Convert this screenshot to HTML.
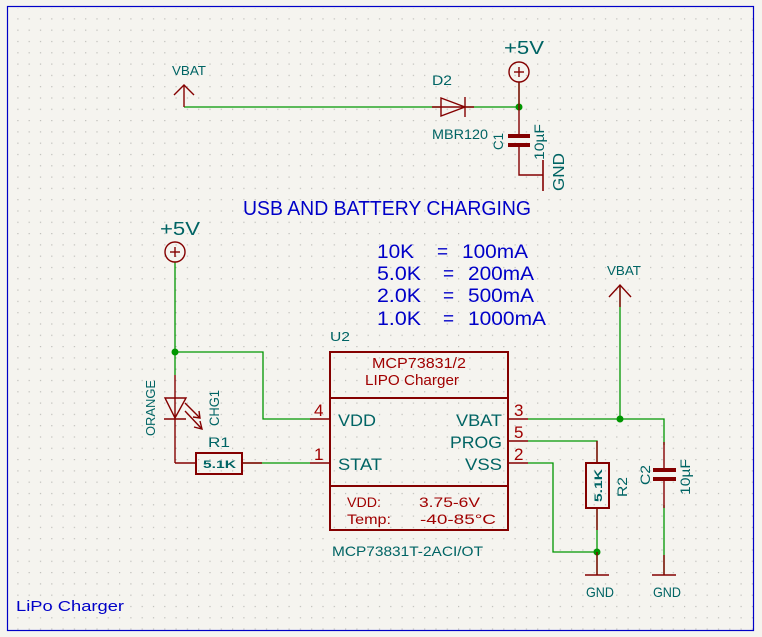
<!DOCTYPE html>
<html><head><meta charset="utf-8"><style>
html,body{margin:0;padding:0;background:#f5f4ef;}
svg{display:block}
text{font-family:"Liberation Sans",sans-serif;}
</style></head><body>
<svg width="762" height="637" viewBox="0 0 762 637" xmlns="http://www.w3.org/2000/svg">
<defs>
<pattern id="g" x="6" y="7" width="11.3" height="11.3" patternUnits="userSpaceOnUse">
<rect x="0" y="0" width="1.2" height="1.2" fill="#bdbdb8"/>
</pattern>
</defs>
<rect width="762" height="637" fill="#f5f4ef"/>
<rect x="8" y="8" width="746" height="622" fill="url(#g)"/>
<rect x="7.5" y="6.5" width="746" height="624" fill="none" stroke="#0000c8" stroke-width="1.2"/>

<g stroke="#009600" stroke-width="1.3" fill="none">
<polyline points="184,107 440,107"/>
<polyline points="466,107 519,107 519,82"/>
<polyline points="175,262 175,375"/>
<polyline points="175,352 263,352 263,419 310,419"/>
<polyline points="242,463 310,463"/>
<polyline points="528,419 664,419 664,445"/>
<polyline points="620,419 620,285"/>
<polyline points="528,441 597,441 597,463"/>
<polyline points="528,463 553,463 553,552 597,552"/>
<polyline points="597,508 597,575"/>
<polyline points="664,505 664,575"/>
</g>
<g fill="#009600">
<circle cx="519" cy="107" r="3.5"/>
<circle cx="175" cy="352" r="3.5"/>
<circle cx="620" cy="419" r="3.5"/>
<circle cx="597" cy="552" r="3.5"/>
</g>

<g stroke="#840000" stroke-width="1.4" fill="none">
<polyline points="174,95 184,85 194,95"/><line x1="184" y1="85" x2="184" y2="107"/>
<line x1="432" y1="107" x2="474" y2="107"/>
<polygon points="441,98 441,116 465,107"/><line x1="465" y1="97" x2="465" y2="117"/>
<circle cx="519" cy="72" r="10"/><line x1="514" y1="72" x2="524" y2="72"/><line x1="519" y1="67" x2="519" y2="77"/>
<line x1="519" y1="82" x2="519" y2="107"/>
<line x1="519" y1="107" x2="519" y2="137"/>
<polyline points="519,146 519,175 543,175"/>
<line x1="543" y1="160" x2="543" y2="191" stroke-width="1.6"/>
<circle cx="175" cy="252" r="10"/><line x1="170" y1="252" x2="180" y2="252"/><line x1="175" y1="247" x2="175" y2="257"/>
<line x1="175" y1="375" x2="175" y2="463"/>
<polygon points="165,398 186,398 175,418"/><line x1="164" y1="419" x2="186" y2="419"/>
<line x1="185" y1="403" x2="200" y2="418"/><polyline points="193,417 200,418 199,411"/>
<line x1="185" y1="411" x2="201" y2="428"/><polyline points="194,427 202,429 200,421"/>
<line x1="175" y1="463" x2="196" y2="463"/><line x1="242" y1="463" x2="262" y2="463"/>
<rect x="196" y="453" width="46" height="21" stroke-width="2"/>
<rect x="330" y="352" width="178" height="178" stroke-width="2"/>
<line x1="330" y1="398" x2="508" y2="398" stroke-width="2"/>
<line x1="330" y1="486" x2="508" y2="486" stroke-width="2"/>
<line x1="310" y1="419" x2="330" y2="419"/><line x1="310" y1="463" x2="330" y2="463"/>
<line x1="508" y1="419" x2="528" y2="419"/><line x1="508" y1="441" x2="528" y2="441"/><line x1="508" y1="463" x2="528" y2="463"/>
<polyline points="609,297 620,285 631,297"/><line x1="620" y1="285" x2="620" y2="307"/>
<line x1="597" y1="441" x2="597" y2="463"/><line x1="597" y1="508" x2="597" y2="530"/>
<rect x="586" y="463" width="23" height="45" stroke-width="2"/>
<line x1="597" y1="552" x2="597" y2="575"/>
<line x1="585" y1="575" x2="609" y2="575" stroke-width="1.6"/>
<line x1="664" y1="442" x2="664" y2="470"/><line x1="664" y1="480" x2="664" y2="508"/>
<line x1="664" y1="555" x2="664" y2="575"/>
<line x1="652" y1="575" x2="676" y2="575" stroke-width="1.6"/>
</g>
<g fill="#840000">
<rect x="508" y="134" width="22" height="4"/><rect x="508" y="143" width="22" height="4"/>
<rect x="653" y="468" width="23" height="4"/><rect x="653" y="477" width="23" height="4"/>
</g>

<g fill="#006464" font-size="13">
<text x="172" y="75" textLength="34" lengthAdjust="spacingAndGlyphs">VBAT</text>
<text x="432" y="85" font-size="14" textLength="20" lengthAdjust="spacingAndGlyphs">D2</text>
<text x="432" y="139" font-size="14" textLength="56" lengthAdjust="spacingAndGlyphs">MBR120</text>
<text x="504" y="54" font-size="18" textLength="40" lengthAdjust="spacingAndGlyphs">+5V</text>
<text transform="translate(503,150) rotate(-90)" font-size="14" textLength="17" lengthAdjust="spacingAndGlyphs">C1</text>
<text transform="translate(544,160) rotate(-90)" font-size="14" textLength="36" lengthAdjust="spacingAndGlyphs">10µF</text>
<text transform="translate(564,191) rotate(-90)" font-size="16" textLength="38" lengthAdjust="spacingAndGlyphs">GND</text>
<text x="160" y="235" font-size="18" textLength="40" lengthAdjust="spacingAndGlyphs">+5V</text>
<text transform="translate(155,436) rotate(-90)" font-size="13" textLength="56" lengthAdjust="spacingAndGlyphs">ORANGE</text>
<text transform="translate(219,426) rotate(-90)" font-size="14" textLength="36" lengthAdjust="spacingAndGlyphs">CHG1</text>
<text x="208" y="447" font-size="14" textLength="22" lengthAdjust="spacingAndGlyphs">R1</text>
<text x="203" y="468" font-size="11" font-weight="bold" textLength="33" lengthAdjust="spacingAndGlyphs">5.1K</text>
<text x="330" y="341" font-size="13" textLength="20" lengthAdjust="spacingAndGlyphs">U2</text>
<text x="338" y="426" font-size="17" textLength="38" lengthAdjust="spacingAndGlyphs">VDD</text>
<text x="338" y="470" font-size="17" textLength="44" lengthAdjust="spacingAndGlyphs">STAT</text>
<text x="456" y="426" font-size="17" textLength="46" lengthAdjust="spacingAndGlyphs">VBAT</text>
<text x="450" y="448" font-size="17" textLength="52" lengthAdjust="spacingAndGlyphs">PROG</text>
<text x="465" y="470" font-size="17" textLength="37" lengthAdjust="spacingAndGlyphs">VSS</text>
<text x="332" y="556" font-size="14" textLength="151" lengthAdjust="spacingAndGlyphs">MCP73831T-2ACI/OT</text>
<text x="607" y="275" font-size="13" textLength="34" lengthAdjust="spacingAndGlyphs">VBAT</text>
<text transform="translate(602,502) rotate(-90)" font-size="11" font-weight="bold" textLength="33" lengthAdjust="spacingAndGlyphs">5.1K</text>
<text transform="translate(627,497) rotate(-90)" font-size="14" textLength="20" lengthAdjust="spacingAndGlyphs">R2</text>
<text transform="translate(650,485) rotate(-90)" font-size="14" textLength="20" lengthAdjust="spacingAndGlyphs">C2</text>
<text transform="translate(690,495) rotate(-90)" font-size="14" textLength="36" lengthAdjust="spacingAndGlyphs">10µF</text>
<text x="586" y="597" font-size="14" textLength="28" lengthAdjust="spacingAndGlyphs">GND</text>
<text x="653" y="597" font-size="14" textLength="28" lengthAdjust="spacingAndGlyphs">GND</text>
</g>

<g fill="#a00000" font-size="15">
<text x="372" y="368" textLength="94" lengthAdjust="spacingAndGlyphs">MCP73831/2</text>
<text x="365" y="385" textLength="94" lengthAdjust="spacingAndGlyphs">LIPO Charger</text>
<text x="314" y="416" font-size="17">4</text>
<text x="314" y="460" font-size="17">1</text>
<text x="514" y="416" font-size="17">3</text>
<text x="514" y="438" font-size="17">5</text>
<text x="514" y="460" font-size="17">2</text>
<text x="347" y="507" font-size="14" textLength="34" lengthAdjust="spacingAndGlyphs">VDD:</text>
<text x="419" y="507" font-size="14" textLength="61" lengthAdjust="spacingAndGlyphs">3.75-6V</text>
<text x="347" y="524" font-size="14" textLength="44" lengthAdjust="spacingAndGlyphs">Temp:</text>
<text x="420" y="524" font-size="14" textLength="76" lengthAdjust="spacingAndGlyphs">-40-85°C</text>
</g>

<g fill="#0000c8" font-size="19">
<text x="243" y="215" font-size="20" textLength="288" lengthAdjust="spacingAndGlyphs">USB AND BATTERY CHARGING</text>
<text x="377" y="258" textLength="37" lengthAdjust="spacingAndGlyphs">10K</text>
<text x="437" y="258">=</text>
<text x="462" y="258" textLength="66" lengthAdjust="spacingAndGlyphs">100mA</text>
<text x="377" y="280" textLength="44" lengthAdjust="spacingAndGlyphs">5.0K</text>
<text x="443" y="280">=</text>
<text x="468" y="280" textLength="66" lengthAdjust="spacingAndGlyphs">200mA</text>
<text x="377" y="302" textLength="44" lengthAdjust="spacingAndGlyphs">2.0K</text>
<text x="443" y="302">=</text>
<text x="468" y="302" textLength="66" lengthAdjust="spacingAndGlyphs">500mA</text>
<text x="377" y="325" textLength="44" lengthAdjust="spacingAndGlyphs">1.0K</text>
<text x="443" y="325">=</text>
<text x="468" y="325" textLength="78" lengthAdjust="spacingAndGlyphs">1000mA</text>
<text x="16" y="611" font-size="15" textLength="108" lengthAdjust="spacingAndGlyphs">LiPo Charger</text>
</g>
</svg>
</body></html>
